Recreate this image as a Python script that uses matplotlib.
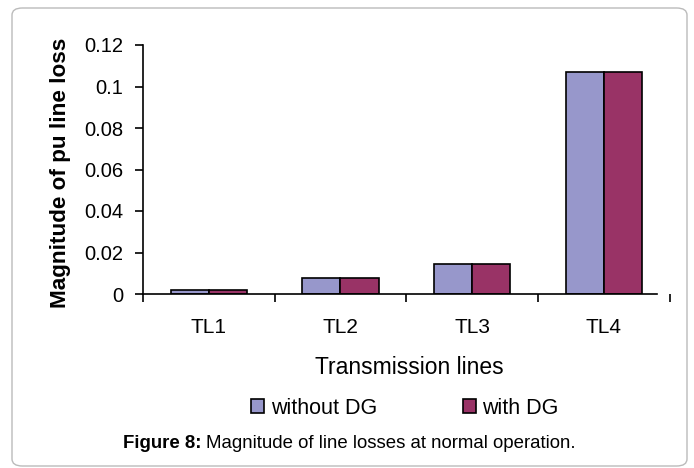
import matplotlib
matplotlib.use("Agg")
import matplotlib.pyplot as plt
import numpy as np
from matplotlib.patches import FancyBboxPatch

categories = ["TL1", "TL2", "TL3", "TL4"]
without_dg = [0.002, 0.0076, 0.0145, 0.107]
with_dg = [0.002, 0.0076, 0.0145, 0.107]
series_names = ["without DG", "with DG"]
yticks = [0, 0.02, 0.04, 0.06, 0.08, 0.1, 0.12]
ytick_labels = ["0", "0.02", "0.04", "0.06", "0.08", "0.1", "0.12"]

plt.rcParams['font.family'] = ['Liberation Sans', 'DejaVu Sans']

W, H = 694, 468
fig = plt.figure(figsize=(W / 100, H / 100), dpi=100)

# rounded border
border = FancyBboxPatch((12 / W, 1 - 466 / H), (687 - 12) / W, (466 - 8) / H,
                        boxstyle="round,pad=0,rounding_size=0.015",
                        transform=fig.transFigure, facecolor="white",
                        edgecolor="#bbbbbb", linewidth=1.0, zorder=-10)
fig.patches.append(border)

AX_L, AX_R, AX_B, AX_T = 143, 669.5, 294, 45
ax = fig.add_axes([AX_L / W, 1 - AX_B / H, (AX_R - AX_L) / W, (AX_B - AX_T) / H])
ax.set_facecolor("none")
ax.set_zorder(5)

x = np.arange(len(categories))
bw = 0.29
b1 = ax.bar(x - bw / 2, without_dg, bw, color="#9797CB", edgecolor="black",
            linewidth=1.2, label=series_names[0])
b2 = ax.bar(x + bw / 2, with_dg, bw, color="#993366", edgecolor="black",
            linewidth=1.2, label=series_names[1])

ax.set_xlim(-0.5, len(categories) - 0.5)
ax.set_ylim(0, 0.12)
ax.set_yticks(yticks)
ax.set_yticklabels(ytick_labels, fontsize=14.5)

ax.set_xticks(np.arange(len(categories) + 1) - 0.5)
ax.set_xticklabels([])
ax.set_xticks(x, minor=True)
ax.set_xticklabels(categories, minor=True, fontsize=15)
ax.tick_params(axis="x", which="minor", length=0, pad=17)
ax.tick_params(axis="x", which="major", direction="out", length=6, width=1.2)
ax.tick_params(axis="y", direction="out", length=6, width=1.2, pad=8)

for s in ["top", "right"]:
    ax.spines[s].set_visible(False)
for s in ["left", "bottom"]:
    ax.spines[s].set_linewidth(1.2)
ax.spines["bottom"].set_bounds(-0.5, 3.405)

ax.set_ylabel("Magnitude of pu line loss", fontsize=16.2, fontweight="bold")
ax.yaxis.set_label_coords(-(AX_L - 71) / (AX_R - AX_L), (AX_B - 173) / (AX_B - AX_T))
ax.set_xlabel("Transmission lines", fontsize=16.5)
ax.xaxis.set_label_coords((409 - AX_L) / (AX_R - AX_L), -(368 - AX_B) / (AX_B - AX_T))
ax.xaxis.label.set_verticalalignment("center")

fig.legend(handles=[b1, b2], labels=series_names, loc="center",
           bbox_to_anchor=(405 / W, 1 - 408 / H), ncol=2, frameon=False,
           fontsize=15.5, handlelength=0.6, handleheight=0.6,
           handletextpad=0.3, columnspacing=4.0)

t1 = fig.text(123 / W, 1 - 444 / H, "Figure 8:", fontsize=13.4,
              fontweight="bold", ha="left", va="center")
fig.canvas.draw()
bb = t1.get_window_extent()
fig.text((bb.x1 + 5) / W, 1 - 444 / H,
         "Magnitude of line losses at normal operation.", fontsize=13.4,
         ha="left", va="center")

fig.savefig("out.png", dpi=100)
